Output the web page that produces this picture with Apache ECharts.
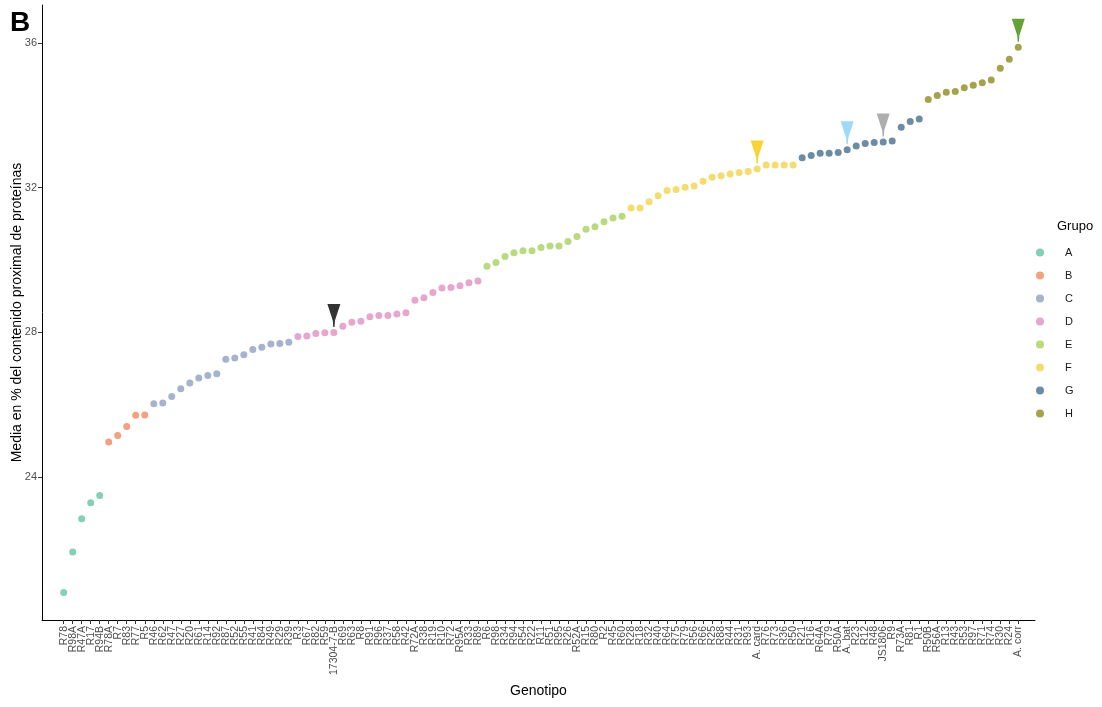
<!DOCTYPE html>
<html><head><meta charset="utf-8">
<script src="https://cdn.jsdelivr.net/npm/echarts@6/dist/echarts.min.js"></script>
<style>html,body{margin:0;padding:0;background:#fff}#c{width:1102px;height:707px}</style>
</head><body><div id="c"></div>
<script>
// ---- data ----
const genotipos = ['R78','R98A','R47A','R17','R94B','R78A','R7','R83','R77','R5',
 'R46','R62','R47','R27','R20','R61','R14','R92','R87','R52','R55','R41','R84','R49','R29','R39',
 'R3','R67','R82','R59','17304-7-B','R69','R63','R8','R91','R96','R37','R58','R42','R72A','R38','R19','R10','R72','R95A','R33','R89',
 'R6','R98','R34','R94','R54','R22','R11','R51','R95','R26','R52A','R15','R80','R2','R45','R60',
 'R28','R18','R32','R40','R64','R75','R79','R56','R66','R25','R88','R44','R31','R93','A. card','R76','R73','R36','R50',
 'R21','R16','R64A','R79','R50A','A. bat','R23','R12','R48','JS1806','R9','R73A','R81','R1',
 'R50B','R56A','R13','R43','R53','R97','R71','R74','R30','R24','A. corr'];
const media = [20.81,21.93,22.85,23.29,23.49,
 24.97,25.15,25.40,25.71,25.72,
 26.03,26.05,26.23,26.44,26.60,26.74,26.81,26.86,27.26,27.29,27.38,27.53,27.59,27.68,27.69,27.73,
 27.89,27.90,27.97,27.99,28.00,28.17,28.28,28.31,28.43,28.47,28.47,28.51,28.54,28.89,28.96,29.10,29.23,29.24,29.29,29.37,29.42,
 29.83,29.93,30.10,30.20,30.26,30.26,30.35,30.39,30.39,30.51,30.65,30.85,30.92,31.06,31.16,31.21,
 31.44,31.44,31.61,31.78,31.92,31.95,32.01,32.05,32.18,32.29,32.33,32.38,32.42,32.45,32.52,32.63,32.63,32.63,32.63,
 32.83,32.89,32.95,32.95,32.97,33.05,33.15,33.22,33.25,33.26,33.29,33.67,33.83,33.90,
 34.44,34.55,34.64,34.66,34.76,34.83,34.90,34.98,35.30,35.55,35.88];
const grupoDePunto = ('AAAAA' + 'BBBBB' + 'CCCCCCCCCCCCCCCC' + 'DDDDDDDDDDDDDDDDDDDDD' +
 'EEEEEEEEEEEEEEEE' + 'FFFFFFFFFFFFFFFFFFF' + 'GGGGGGGGGGGGGG' + 'HHHHHHHHHHH').split('');
const grupos = ['A','B','C','D','E','F','G','H'];
const coloresGrupo = ['#86cfb4','#f5a083','#a5b2d0','#e6a6cf','#b9da7f','#f5dc70','#6c8ca6','#a4a34c'];
const marcados = ['17304-7-B','A. card','A. bat','JS1806','A. corr'];
const coloresMarca = ['#000000','#f5c800','#87cefa','#9a9a9a','#3f8a00'];
const ticksY = [24,28,32,36];
const yMin = 20.05, yMax = 37.05;

// ---- chart ----
const FONT = 'Liberation Sans, Arial, sans-serif';
const chart = echarts.init(document.getElementById('c'));
const seriesGrupos = grupos.map((g, k) => ({
  type: 'scatter', name: g, xAxisIndex: 0, yAxisIndex: 0,
  symbol: 'circle', symbolSize: 7,
  itemStyle: { color: coloresGrupo[k], opacity: 1 },
  data: media.map((v, i) => grupoDePunto[i] === g ? [i, v] : null).filter(d => d)
}));
const serieMarcas = {
  type: 'scatter', name: 'marcas', xAxisIndex: 0, yAxisIndex: 0, z: 5,
  symbol: 'path://M0,0 L12,0 L7,16 L6.6,22 L5.4,22 L5,16 Z',
  symbolSize: [13, 23], symbolOffset: [0, -17], silent: true,
  data: marcados.map((n, k) => {
    const i = genotipos.indexOf(n);
    return { value: [i, media[i]], itemStyle: { color: coloresMarca[k] } };
  })
};
chart.setOption({
  animation: false,
  backgroundColor: '#ffffff',
  textStyle: { fontFamily: FONT },
  title: [
    { text: 'B', left: 10, top: 9, padding: 0, textStyle: { fontSize: 28, fontWeight: 'bold', color: '#000', fontFamily: FONT } },
    { text: 'Grupo', left: 1057, top: 220, padding: 0, textStyle: { fontSize: 13, fontWeight: 'normal', color: '#000', fontFamily: FONT } }
  ],
  legend: {
    data: grupos, orient: 'vertical', left: 1036, top: 247, padding: 0,
    icon: 'circle', itemWidth: 28, itemHeight: 8, itemGap: 12,
    textStyle: { fontSize: 11, color: '#1a1a1a', fontFamily: FONT, padding: [0, 0, 0, 6] }
  },
  grid: [
    { left: 59.2, right: 1102 - 1022.8, top: 5, bottom: 87, outerBoundsMode: 'none', containLabel: false },
    { left: 42, right: 1102 - 1035, top: 5, bottom: 87, outerBoundsMode: 'none', containLabel: false }
  ],
  xAxis: [
    { gridIndex: 0, type: 'category', data: genotipos, boundaryGap: true,
      axisLine: { show: false },
      axisTick: { show: true, alignWithLabel: true, interval: 0, length: 4, lineStyle: { color: '#333', width: 1 } },
      axisLabel: { rotate: 90, interval: 0, fontSize: 10.5, color: '#4d4d4d', margin: 6, fontFamily: FONT },
      splitLine: { show: false } },
    { gridIndex: 1, type: 'value', min: 0, max: 1,
      axisLine: { show: true, lineStyle: { color: '#000', width: 1 } },
      axisTick: { show: false }, axisLabel: { show: false }, splitLine: { show: false },
      name: 'Genotipo', nameLocation: 'middle', nameGap: 64, nameMoveOverlap: false,
      nameTextStyle: { fontSize: 14, color: '#000', fontFamily: FONT } }
  ],
  yAxis: [
    { gridIndex: 0, type: 'value', min: yMin, max: yMax,
      axisLine: { show: false }, axisTick: { show: false }, axisLabel: { show: false }, splitLine: { show: false } },
    { gridIndex: 1, type: 'value', min: yMin, max: yMax,
      axisLine: { show: true, lineStyle: { color: '#000', width: 1 } },
      axisTick: { show: true, customValues: ticksY, length: 4, lineStyle: { color: '#333' } },
      axisLabel: { show: true, customValues: ticksY, fontSize: 11, color: '#4d4d4d', margin: 5, fontFamily: FONT },
      splitLine: { show: false },
      name: 'Media en % del contenido proximal de proteínas', nameLocation: 'middle', nameGap: 18, nameRotate: 90,
      nameMoveOverlap: false,
      nameTextStyle: { fontSize: 14, color: '#000', fontFamily: FONT } }
  ],
  series: [...seriesGrupos, serieMarcas]
});
</script>
</body></html>
